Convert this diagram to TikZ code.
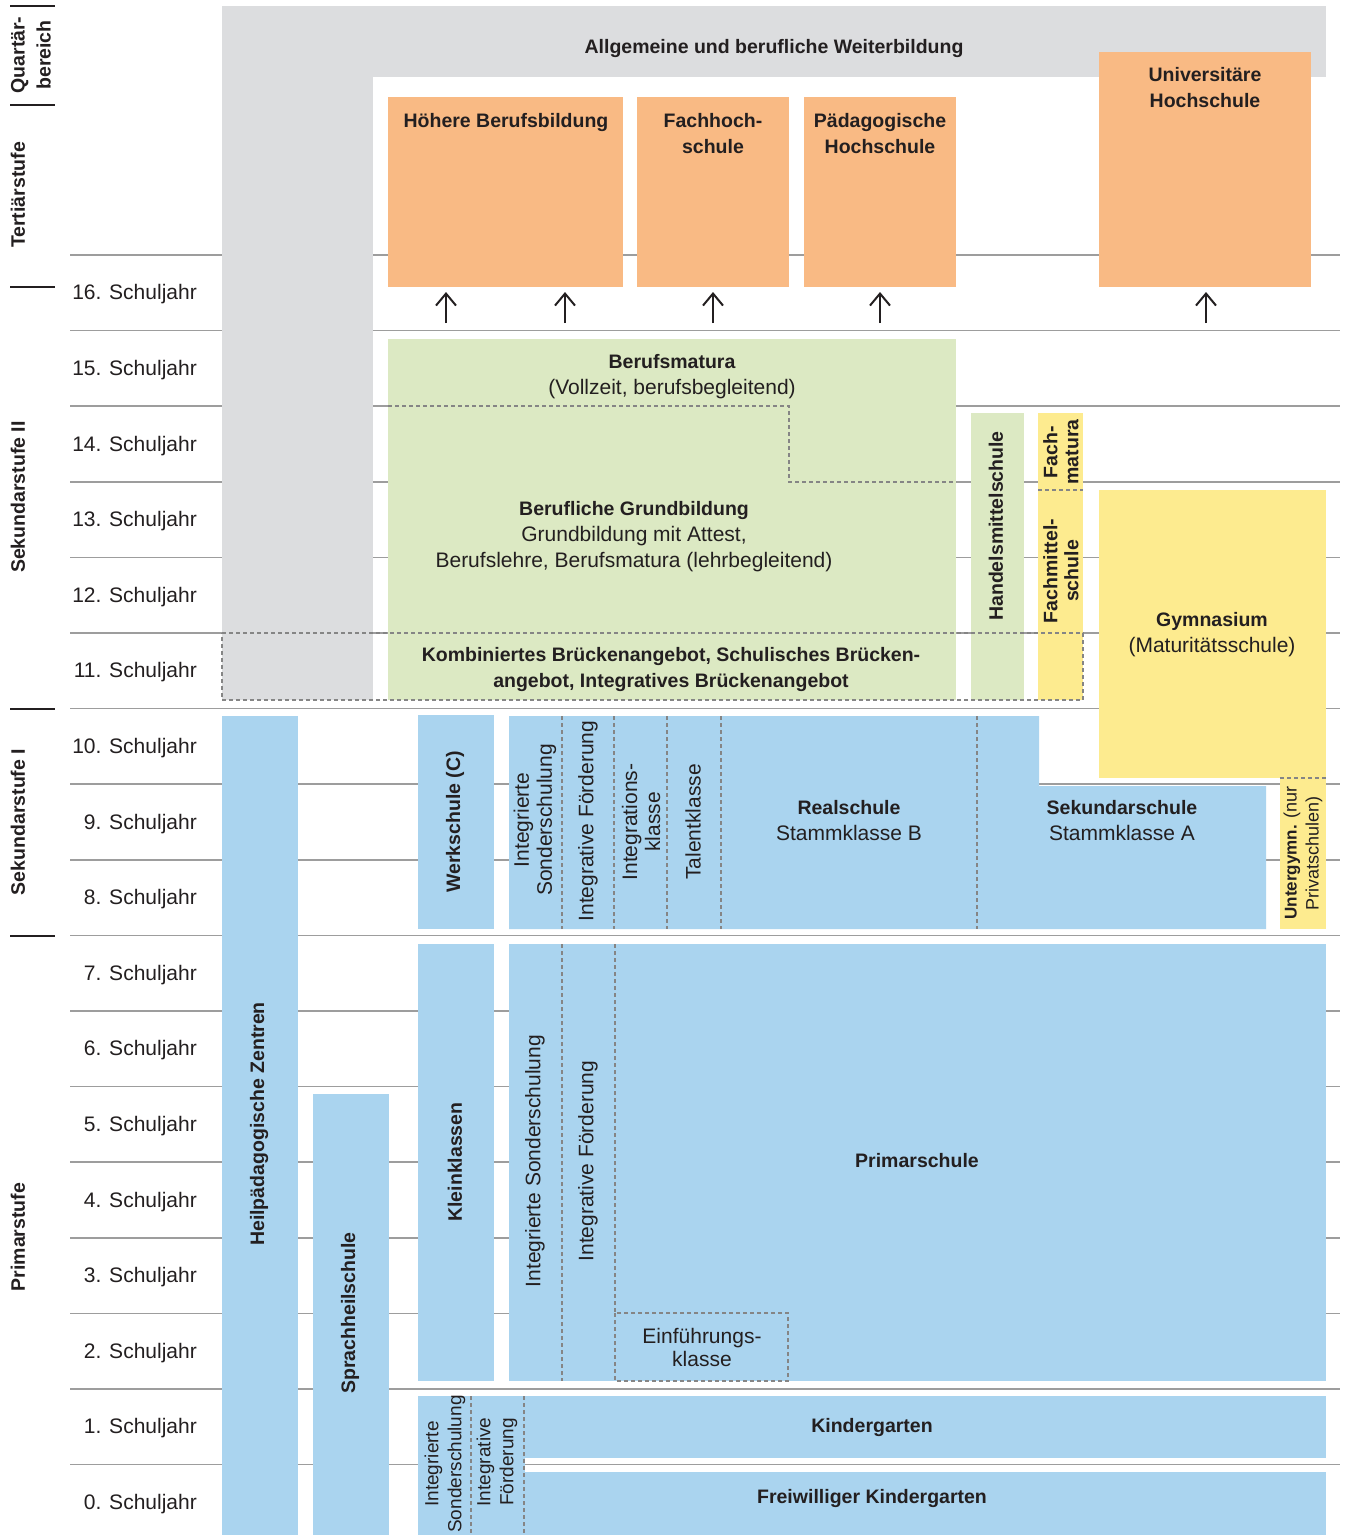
\documentclass[tikz,border=0pt]{standalone}
\usepackage{fontspec}
\setmainfont{Liberation Sans}
\usetikzlibrary{arrows.meta}
\definecolor{bl}{HTML}{AAD4EF}
\definecolor{gr}{HTML}{DCE9C3}
\definecolor{ye}{HTML}{FDEB8F}
\definecolor{orn}{HTML}{F9BA84}
\definecolor{gy}{HTML}{DCDDDF}
\definecolor{tx}{HTML}{231F20}
\definecolor{gl}{HTML}{9D9D9D}
\definecolor{dl}{HTML}{858585}
\newcommand\bfx[1]{{\fontsize{19.5}{26}\selectfont\bfseries #1}}
\newcommand\bfy[1]{{\fontsize{17}{22}\selectfont\bfseries #1}}
\begin{document}
\begin{tikzpicture}[x=1pt,y=-1pt,
  gridline/.style={draw=gl, line width=1.5pt},
  tickline/.style={draw=tx, line width=1.3pt},
  dsh/.style={draw=dl, line width=1.1pt, dash pattern=on 4pt off 3pt},
  lbl/.style={font=\fontsize{21}{26}\selectfont, text=tx, inner sep=0pt, align=center},
  lbln/.style={font=\fontsize{21}{23}\selectfont, text=tx, inner sep=0pt, align=center},
  lbls/.style={font=\fontsize{19}{23}\selectfont, text=tx, inner sep=0pt, align=center},
  lblt/.style={font=\fontsize{18}{22}\selectfont, text=tx, inner sep=0pt, align=center},
  blbl/.style={font=\fontsize{19.5}{26}\selectfont\bfseries, text=tx, inner sep=0pt, align=center},
  blbln/.style={font=\fontsize{19.5}{21}\selectfont\bfseries, text=tx, inner sep=0pt, align=center},
  arr/.style={draw=tx, line width=2pt, -{Straight Barb[length=12pt,width=20pt,line width=2pt]}}
]
\useasboundingbox (0,0) rectangle (1347,1535);
\fill[white] (0,0) rectangle (1347,1535);

% grid lines
\foreach \k in {0,...,16} {
  \draw[gridline] (70,{255+75.6*\k}) -- (1340,{255+75.6*\k});
}
% stage ticks
\foreach \yy in {6,105,287,709,936} {
  \draw[tickline] (10,\yy) -- (55,\yy);
}
% stage labels
\node[blbl, rotate=90] (stq) at (31,55) {Quartär-\\bereich};
\node[blbl, rotate=90] (stt) at (18,195) {Tertiärstufe};
\node[blbl, rotate=90] (sts2) at (18,497) {Sekundarstufe II};
\node[blbl, rotate=90] (sts1) at (18,822) {Sekundarstufe I};
\node[blbl, rotate=90] (stp) at (18,1237) {Primarstufe};

% row labels
\foreach \n in {0,...,16} {
  \node[lbl, anchor=east] (r\n) at (197,{294.5+75.6*(16-\n)}) {\n. Schuljahr};
}

% Weiterbildung (grey L)
\fill[gy] (222,6) rectangle (1326,77);
\fill[gy] (222,6) rectangle (373,700);
\node[blbl] (wb) at (774,48) {Allgemeine und berufliche Weiterbildung};

% Tertiary (orange)
\fill[orn] (388,97) rectangle (623,287);
\fill[orn] (637,97) rectangle (789,287);
\fill[orn] (804,97) rectangle (956,287);
\fill[orn] (1099,52) rectangle (1311,287);
\node[blbl, anchor=north] (hb) at (506,113) {Höhere Berufsbildung};
\node[blbl, anchor=north] (fh) at (713,113) {Fachhoch-\\schule};
\node[blbl, anchor=north] (ph) at (880,113) {Pädagogische\\Hochschule};
\node[blbl, anchor=north] (uh) at (1205,67) {Universitäre\\Hochschule};

% arrows
\foreach \i/\xx in {1/446,2/565,3/713,4/880,5/1206} {
  \coordinate (as\i) at (\xx,323);
  \coordinate (ae\i) at (\xx,292);
  \draw[arr] (as\i) -- (ae\i);
}

% Sek II (green / yellow)
\fill[gr] (388,339) rectangle (956,700);
\fill[gr] (971,413) rectangle (1024,700);
\fill[ye] (1038,413) rectangle (1083,700);
\fill[ye] (1099,490) rectangle (1326,778);
\fill[ye] (1280,778) rectangle (1326,929);
\draw[dsh] (388,406) -- (789,406) -- (789,482) -- (956,482);
\draw[dsh] (222,633) -- (1083,633) -- (1083,700) -- (222,700) -- cycle;
\draw[dsh] (1038,490) -- (1083,490);
\draw[dsh] (1280,778) -- (1326,778);

\node[lbl] (bm) at (672,377) {\bfx{Berufsmatura}\\(Vollzeit, berufsbegleitend)};
\node[lbl] (bg) at (634,537) {\bfx{Berufliche Grundbildung}\\Grundbildung mit Attest,\\Berufslehre, Berufsmatura (lehrbegleitend)};
\node[blbl] (ba) at (671,669) {Kombiniertes Brückenangebot, Schulisches Brücken-\\angebot, Integratives Brückenangebot};
\node[blbl, rotate=90] (hm) at (996,526) {Handelsmittelschule};
\node[blbln, rotate=90] (fm) at (1061,452) {Fach-\\matura};
\node[blbln, rotate=90] (fms) at (1061,571) {Fachmittel-\\schule};
\node[lbl] (gym) at (1212,635) {\bfx{Gymnasium}\\(Maturitätsschule)};
\node[lblt, rotate=90] (ug) at (1303,853) {\bfy{Untergymn.} (nur\\Privatschulen)};

% Sek I (blue)
\fill[bl] (418,715) rectangle (494,929);
\fill[bl] (509,716) -- (1039,716) -- (1039,786) -- (1266,786) -- (1266,929) -- (509,929) -- cycle;
\foreach \xx in {562,614,667,721,977} {
  \draw[dsh] (\xx,716) -- (\xx,929);
}
\node[blbl, rotate=90] (ws) at (455,822) {Werkschule (C)};
\node[lbln, rotate=90] (is1) at (535,820) {Integrierte\\Sonderschulung};
\node[lbl, rotate=90] (if1) at (588,821) {Integrative Förderung};
\node[lbln, rotate=90] (ik) at (641,822) {Integrations-\\klasse};
\node[lbl, rotate=90] (tk) at (693,822) {Talentklasse};
\node[lbl] (rs) at (849,821) {\bfx{Realschule}\\Stammklasse B};
\node[lbl] (ss) at (1122,821) {\bfx{Sekundarschule}\\Stammklasse A};

% Primar
\fill[bl] (222,716) rectangle (298,1535);
\fill[bl] (313,1094) rectangle (389,1535);
\fill[bl] (418,944) rectangle (494,1381);
\fill[bl] (509,944) rectangle (1326,1381);
\draw[dsh] (562,944) -- (562,1381);
\draw[dsh] (615,944) -- (615,1313);
\draw[dsh] (615,1313) rectangle (788,1381);
\node[blbl, rotate=90] (hz) at (259,1124) {Heilpädagogische Zentren};
\node[blbl, rotate=90] (sh) at (350,1313) {Sprachheilschule};
\node[blbl, rotate=90] (kk) at (455,1162) {Kleinklassen};
\node[lbl, rotate=90] (is2) at (535,1161) {Integrierte Sonderschulung};
\node[lbl, rotate=90] (if2) at (588,1161) {Integrative Förderung};
\node[blbl] (ps) at (917,1161) {Primarschule};
\node[lbln] (ek) at (702,1347) {Einführungs-\\klasse};

% Kindergarten
\fill[bl] (418,1396) rectangle (525,1535);
\fill[bl] (525,1396) rectangle (1326,1458);
\fill[bl] (525,1472) rectangle (1326,1535);
\draw[dsh] (471,1396) -- (471,1535);
\draw[dsh] (524,1396) -- (524,1535);
\node[lbls, rotate=90] (is3) at (445,1464) {Integrierte\\Sonderschulung};
\node[lbls, rotate=90] (if3) at (497,1462) {Integrative\\Förderung};
\node[blbl] (kg) at (872,1427) {Kindergarten};
\node[blbl] (fkg) at (872,1498) {Freiwilliger Kindergarten};
\end{tikzpicture}
\end{document}
